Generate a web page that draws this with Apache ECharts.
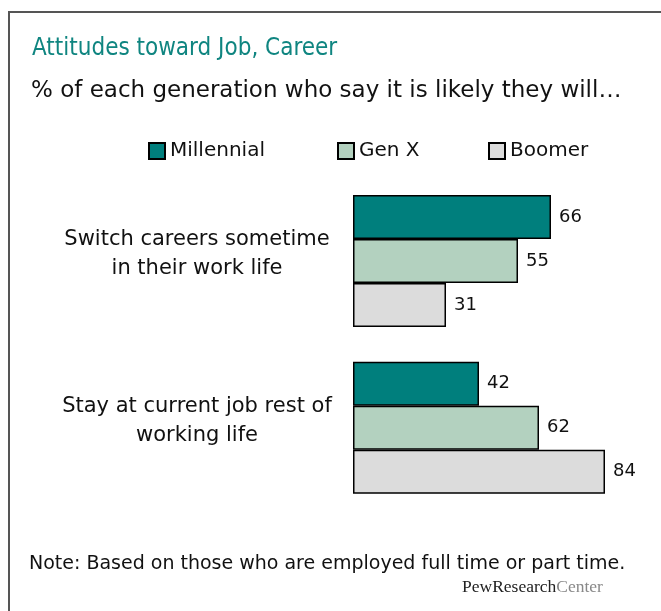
<!DOCTYPE html>
<html>
<head>
<meta charset="utf-8">
<script src="https://cdn.jsdelivr.net/npm/echarts@6/dist/echarts.min.js"></script>
<style>html,body{margin:0;padding:0;background:#fff}#c{width:661px;height:611px}</style>
</head>
<body>
<div id="c"></div>
<script>
const categories = ['Switch careers sometime\nin their work life', 'Stay at current job rest of\nworking life'];
const seriesNames = ['Millennial', 'Gen X', 'Boomer'];
const millennial = [66, 42];
const genX = [55, 62];
const boomer = [31, 84];
const colors = ['#007f7d', '#b3d1bf', '#dcdcdc'];

const FONT_C = '"DejaVu Sans Condensed", "Noto Sans", sans-serif';
const FONT = '"DejaVu Sans", "Noto Sans", sans-serif';
const chart = echarts.init(document.getElementById('c'), null, {renderer: 'canvas'});
const values = [millennial, genX, boomer];
const legendLeft = [143, 332, 483];

chart.setOption({
  animation: false,
  textStyle: {fontFamily: FONT},
  title: [
    {text: 'Attitudes toward Job, Career', left: 27, top: 32,
     textStyle: {fontFamily: FONT_C, fontSize: 24, fontWeight: 'normal', color: '#0f8580'}},
    {text: '% of each generation who say it is likely they will…', left: 26, top: 75,
     textStyle: {fontFamily: FONT, fontSize: 23, fontWeight: 'normal', color: '#111'}}
  ],
  legend: seriesNames.map((n, i) => ({
    data: [n], left: legendLeft[i], top: 136, itemWidth: 16, itemHeight: 16, icon: 'rect',
    selectedMode: false,
    textStyle: {fontFamily: FONT, fontSize: 20, color: '#111'}
  })),
  grid: {left: 353, top: 177.6, width: 300, height: 333.6, containLabel: false},
  xAxis: {type: 'value', min: 0, max: 100, show: false},
  yAxis: {
    type: 'category', inverse: true, data: categories,
    axisLine: {show: false}, axisTick: {show: false},
    axisLabel: {
      align: 'center', margin: 156, color: '#111', fontFamily: FONT,
      formatter: v => v.split('\n').map(l => '{t|' + l + '}').join('\n') + '\n{s| }',
      rich: {
        t: {fontSize: 21, lineHeight: 29, fontFamily: FONT, color: '#111', align: 'center'},
        s: {fontSize: 2, lineHeight: 14}
      }
    }
  },
  series: seriesNames.map((n, i) => ({
    name: n, type: 'bar', data: values[i], barWidth: 44, barGap: '0%',
    itemStyle: {color: colors[i], borderColor: '#000', borderWidth: 1.5},
    label: {show: true, position: 'right', distance: 8, fontSize: 18, color: '#111', fontFamily: FONT}
  })),
  graphic: [
    {type: 'rect', shape: {x: 9, y: 12, width: 700, height: 700}, style: {fill: 'none', stroke: '#555', lineWidth: 2}, silent: true},
    {type: 'text', left: 29, top: 555, style: {text: 'Note: Based on those who are employed full time or part time.', fontFamily: FONT, fontSize: 19, fill: '#111'}},
    {type: 'text', left: 462, top: 578, style: {
      text: '{a|PewResearch}{b|Center}',
      rich: {a: {fontFamily: '"Liberation Serif", serif', fontSize: 17.5, fill: '#222', color: '#222'},
             b: {fontFamily: '"Liberation Serif", serif', fontSize: 17.5, fill: '#888', color: '#888'}}
    }}
  ]
});
</script>
</body>
</html>
